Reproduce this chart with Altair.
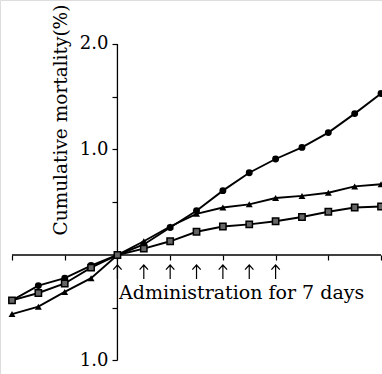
import altair as alt
import pandas as pd

days = [-4, -3, -2, -1, 0, 1, 2, 3, 4, 5, 6, 7, 8, 9, 10]
circle = [-0.43, -0.29, -0.22, -0.10, 0, 0.10, 0.26, 0.42, 0.61, 0.78, 0.91, 1.02, 1.16, 1.34, 1.53]
triangle = [-0.56, -0.49, -0.35, -0.22, 0, 0.13, 0.27, 0.39, 0.45, 0.48, 0.54, 0.56, 0.59, 0.65, 0.67]
square = [-0.43, -0.36, -0.27, -0.12, 0, 0.06, 0.13, 0.22, 0.27, 0.29, 0.32, 0.36, 0.41, 0.45, 0.46]
arrow_days = [0, 1, 2, 3, 4, 5, 6]
y_ticks = [-1, -0.5, 0.5, 1, 1.5, 2]
x_ticks = days

rows = []
for name, vals in [("circle", circle), ("triangle", triangle), ("square", square)]:
    for d, v in zip(days, vals):
        rows.append({"day": d, "value": v, "series": name})
df = pd.DataFrame(rows)

FONT = "DejaVu Serif"
xs = alt.Scale(domain=[-4.455, 10.036], nice=False, zero=False)
ys = alt.Scale(domain=[-1.128, 2.417], nice=False, zero=False)

xax = alt.Axis(orient="bottom", offset=-119, domain=False, values=x_ticks, labels=False,
               tickSize=5, tickColor="black", tickWidth=1.2, grid=False, title=None)
yax = alt.Axis(orient="left", offset=-117, domain=False, values=y_ticks,
               labelExpr="(datum.value==2||datum.value==1||datum.value==-1) ? format(abs(datum.value),'.1f') : ''",
               tickSize=5, tickColor="black", tickWidth=1.2, grid=False, title=None,
               labelFont=FONT, labelFontSize=18, labelColor="black", labelPadding=4)

base = alt.Chart(df)

lines = base.mark_line(color="black", strokeWidth=1.9).encode(
    x=alt.X("day:Q", scale=xs, axis=xax),
    y=alt.Y("value:Q", scale=ys, axis=yax),
    detail="series:N",
)

circ = base.transform_filter("datum.series=='circle'").mark_point(
    shape="circle", filled=True, color="black", size=48, opacity=1).encode(
    x=alt.X("day:Q", scale=xs), y=alt.Y("value:Q", scale=ys))
tri = base.transform_filter("datum.series=='triangle'").mark_point(
    shape="triangle-up", filled=True, color="black", size=48, opacity=1).encode(
    x=alt.X("day:Q", scale=xs), y=alt.Y("value:Q", scale=ys))
sq = base.transform_filter("datum.series=='square'").mark_point(
    shape="square", filled=True, fill="#666666", stroke="black", strokeWidth=1.5, size=40, opacity=1).encode(
    x=alt.X("day:Q", scale=xs), y=alt.Y("value:Q", scale=ys))

axis_df = pd.DataFrame({"x": [0], "y": [-1], "y2": [2], "xa": [-4], "xb": [10], "z": [0]})
yline = alt.Chart(axis_df).mark_rule(color="black", strokeWidth=1.3).encode(
    x=alt.X("x:Q", scale=xs), y=alt.Y("y:Q", scale=ys), y2="y2:Q")
xline = alt.Chart(axis_df).mark_rule(color="black", strokeWidth=1.3).encode(
    x=alt.X("xa:Q", scale=xs), x2="xb:Q", y=alt.Y("z:Q", scale=ys))

ARROW = "M0,-1L0,1M-0.6,-0.35L0,-1L0.6,-0.35"
arrows = alt.Chart(pd.DataFrame({"day": arrow_days})).mark_point(
    shape=ARROW, filled=False, stroke="black", strokeWidth=1.2, size=196, opacity=1).encode(
    x=alt.X("day:Q", scale=xs), y=alt.value(272))

admin = alt.Chart(pd.DataFrame({"t": ["Administration for 7 days"]})).mark_text(
    font=FONT, fontSize=19, color="black", align="left", baseline="alphabetic").encode(
    x=alt.value(119), y=alt.value(299), text="t:N")

ytitle = alt.Chart(pd.DataFrame({"t": ["Cumulative mortality(%)"]})).mark_text(
    font=FONT, fontSize=18.5, color="black", angle=270, align="center", baseline="middle").encode(
    x=alt.value(61), y=alt.value(120), text="t:N")

chart = alt.layer(lines, yline, xline, circ, tri, sq, arrows, admin, ytitle).properties(
    width=382, height=374, autosize=alt.AutoSizeParams(type="none"), padding=0,
).configure_view(stroke=None).configure(background="white")

chart.save("out.html", embed_options={"renderer": "svg", "actions": False})
